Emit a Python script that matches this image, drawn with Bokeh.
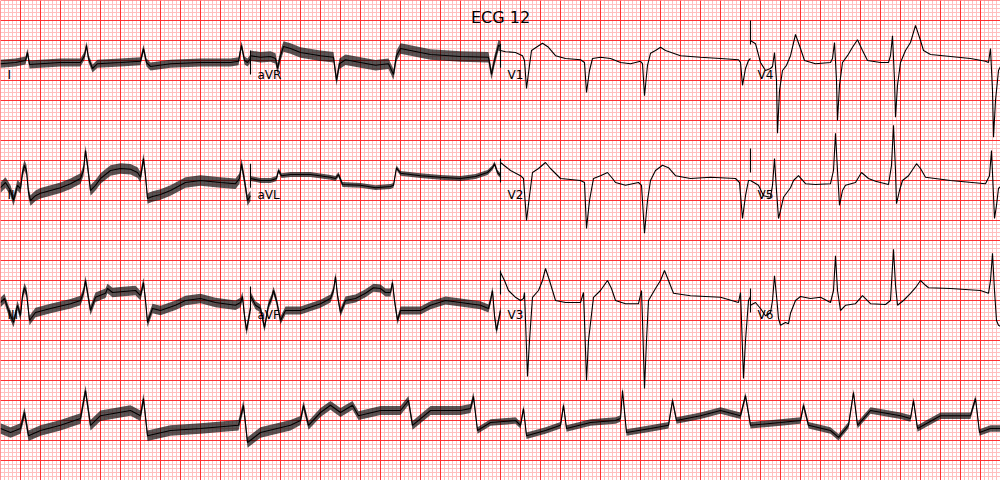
import numpy as np
from bokeh.plotting import figure
from bokeh.models import Range1d, Label
from bokeh.embed import file_html
from bokeh.resources import INLINE

TITLE = "ECG 12"
SECONDS_PER_LEAD = 2.5
ROW_STEP = 3.0  # mV between row baselines

# layout: rows of leads (columns left to right)
LEAD_ROWS = [["I", "aVR", "V1", "V4"],
             ["II", "aVL", "V2", "V5"],
             ["III", "aVF", "V3", "V6"]]

# ---- traces: (time s, amplitude mV) ----
LEAD_I = [(0, -0.08), (0.15, -0.05), (0.25, 0), (0.27, 0.2), (0.29, -0.1), (0.4, -0.08), (0.6, -0.05), (0.8, -0.05),
          (0.84, 0.12), (0.86, 0.38), (0.88, 0.05), (0.92, -0.2), (0.97, -0.08), (1.2, -0.05), (1.4, -0.02), (1.43, 0.3),
          (1.46, -0.05), (1.5, -0.15), (1.7, -0.08), (2.0, -0.05), (2.3, -0.05), (2.38, -0.02), (2.41, 0.38), (2.44, 0.0),
          (2.47, -0.05), (2.5, 0.05)]
LEAD_AVR = [(0, 0.12), (0.1, 0.08), (0.2, 0.1), (0.25, 0.05), (0.27, -0.2), (0.3, 0.12), (0.33, 0.35), (0.4, 0.3), (0.5, 0.2),
            (0.7, 0.12), (0.83, 0.08), (0.86, -0.5), (0.89, -0.08), (0.95, 0.02), (1.1, -0.05), (1.25, -0.12), (1.38, -0.08),
            (1.43, -0.35), (1.46, 0.12), (1.5, 0.3), (1.6, 0.25), (1.8, 0.15), (2.1, 0.1), (2.38, 0.08), (2.41, -0.35),
            (2.44, 0.0), (2.48, 0.38), (2.5, 0.35)]
LEAD_V1 = [(0, 0.25), (0.05, 0.22), (0.15, 0.2), (0.22, 0.12), (0.24, 0), (0.26, -0.7), (0.29, -0.12), (0.31, 0.25), (0.37, 0.35),
           (0.42, 0.43), (0.48, 0.33), (0.55, 0.12), (0.65, 0.05), (0.8, 0.02), (0.84, -0.05), (0.86, -0.8), (0.89, -0.25),
           (0.92, 0.05), (1.0, 0.08), (1.1, 0.05), (1.2, -0.05), (1.3, -0.08), (1.4, -0.02), (1.42, -0.08), (1.44, -0.88),
           (1.47, -0.12), (1.5, 0.18), (1.55, 0.25), (1.6, 0.33), (1.65, 0.25), (1.8, 0.12), (2.0, 0.08), (2.2, 0.05),
           (2.38, 0.02), (2.4, -0.05), (2.42, -0.62), (2.45, -0.2), (2.48, 0), (2.5, 0.05)]
LEAD_V4 = [(0, 0.5), (0.05, 0.42), (0.1, -0.05), (0.15, -0.25), (0.2, -0.2), (0.22, -0.15), (0.24, 0.2), (0.26, -0.5),
           (0.27, -1.82), (0.29, -0.75), (0.32, -0.25), (0.36, -0.12), (0.4, 0.12), (0.45, 0.65), (0.5, 0.3), (0.54, 0),
           (0.65, -0.08), (0.8, -0.05), (0.82, 0.05), (0.84, 0.45), (0.86, -0.5), (0.87, -1.5), (0.89, -0.62), (0.92, -0.05),
           (0.97, 0.12), (1.02, 0.33), (1.07, 0.52), (1.12, 0.25), (1.17, 0), (1.3, -0.05), (1.38, -0.05), (1.4, 0.12),
           (1.42, 0.62), (1.44, -0.5), (1.45, -1.42), (1.47, -0.62), (1.5, -0.05), (1.55, 0.25), (1.6, 0.45), (1.65, 0.88),
           (1.7, 0.5), (1.73, 0.25), (1.8, 0.15), (2.0, 0.1), (2.2, 0.05), (2.35, -0.02), (2.38, -0.05), (2.4, 0.3),
           (2.42, -0.75), (2.43, -1.92), (2.45, -1.0), (2.48, -0.25), (2.5, -0.15)]
LEAD_II = [(0, -0.18), (0.05, -0.05), (0.1, -0.25), (0.13, -0.5), (0.17, -0.12), (0.2, -0.2), (0.22, 0.2), (0.24, 0.38),
           (0.26, 0.25), (0.28, -0.3), (0.3, -0.5), (0.35, -0.38), (0.4, -0.32), (0.5, -0.25), (0.6, -0.18), (0.7, -0.08),
           (0.8, 0.05), (0.83, 0.25), (0.85, 0.75), (0.87, 0.38), (0.9, -0.25), (0.95, -0.12), (1.0, 0.05), (1.1, 0.25),
           (1.2, 0.3), (1.3, 0.28), (1.37, 0.2), (1.4, 0.08), (1.43, 0.55), (1.45, 0.12), (1.47, -0.45), (1.52, -0.4),
           (1.6, -0.35), (1.7, -0.25), (1.85, -0.05), (2.0, 0), (2.2, -0.05), (2.35, -0.08), (2.39, 0.05), (2.41, 0.42),
           (2.44, 0), (2.47, -0.5), (2.5, -0.38)]
LEAD_AVL = [(0, 0.05), (0.1, 0), (0.2, 0), (0.26, 0.05), (0.28, 0.25), (0.31, 0.12), (0.4, 0.15), (0.6, 0.15), (0.8, 0.08),
            (0.85, 0.05), (0.88, 0.15), (0.92, -0.1), (1.1, -0.12), (1.25, -0.18), (1.4, -0.15), (1.43, -0.12), (1.46, 0.32),
            (1.5, 0.18), (1.7, 0.12), (1.9, 0.08), (2.1, 0.05), (2.25, 0.1), (2.37, 0.2), (2.42, 0.32), (2.44, 0.42),
            (2.47, 0.2), (2.5, 0.12)]
LEAD_V2 = [(0, 0.45), (0.05, 0.35), (0.1, 0.25), (0.2, 0.12), (0.23, 0.05), (0.26, -1.0), (0.29, -0.38), (0.32, 0.2), (0.38, 0.3),
           (0.45, 0.45), (0.5, 0.3), (0.6, 0.05), (0.8, 0), (0.84, -0.05), (0.86, -1.2), (0.89, -0.5), (0.93, 0.05), (1.0, 0.12),
           (1.07, 0.2), (1.12, 0.05), (1.15, -0.05), (1.25, -0.12), (1.38, -0.05), (1.41, -0.12), (1.44, -1.32), (1.47, -0.5),
           (1.5, 0), (1.55, 0.25), (1.62, 0.38), (1.68, 0.32), (1.75, 0.12), (1.9, 0.05), (2.1, 0.08), (2.35, 0.05),
           (2.39, -0.05), (2.42, -0.95), (2.45, -0.38), (2.48, 0), (2.5, 0)]
LEAD_V5 = [(0, 0), (0.08, -0.12), (0.13, -0.38), (0.2, -0.42), (0.22, -0.12), (0.24, 0.55), (0.26, -0.25), (0.28, -0.95),
           (0.3, -0.75), (0.33, -0.42), (0.4, -0.18), (0.43, 0), (0.48, 0.12), (0.55, -0.08), (0.65, -0.1), (0.8, -0.08),
           (0.83, 0.25), (0.85, 1.18), (0.87, 0.25), (0.89, -0.62), (0.92, -0.25), (0.95, -0.12), (1.05, -0.05), (1.11, 0.2),
           (1.18, 0.05), (1.25, -0.02), (1.38, -0.1), (1.41, 0.38), (1.43, 1.38), (1.45, 0.25), (1.46, -0.58), (1.49, -0.25),
           (1.52, 0), (1.58, 0.12), (1.66, 0.42), (1.7, 0.3), (1.75, 0.08), (2.0, 0), (2.35, -0.08), (2.39, 0.12),
           (2.41, 0.75), (2.43, -0.38), (2.44, -0.95), (2.46, -0.62), (2.48, -0.2), (2.5, -0.15)]
LEAD_III = [(0, -0.05), (0.04, 0.05), (0.08, -0.25), (0.13, -0.55), (0.17, -0.12), (0.2, -0.38), (0.22, 0.12), (0.24, 0.32),
            (0.26, 0.2), (0.29, -0.5), (0.35, -0.3), (0.5, -0.2), (0.7, -0.08), (0.8, 0), (0.83, 0.2), (0.85, 0.5), (0.87, 0.2),
            (0.9, -0.25), (0.95, 0.08), (1.05, 0.18), (1.07, 0.3), (1.12, 0.2), (1.2, 0.22), (1.35, 0.25), (1.4, 0.12),
            (1.43, 0.45), (1.45, 0), (1.47, -0.55), (1.52, -0.2), (1.6, -0.25), (1.75, -0.12), (1.85, 0), (2.0, 0.05),
            (2.15, -0.05), (2.35, -0.12), (2.4, -0.05), (2.42, 0.1), (2.44, -0.38), (2.46, -0.75), (2.5, -0.2)]
LEAD_AVF = [(0, 0.12), (0.05, -0.12), (0.1, -0.2), (0.14, -0.68), (0.18, -0.12), (0.21, 0.05), (0.23, 0.25), (0.26, 0),
            (0.3, -0.5), (0.35, -0.25), (0.5, -0.25), (0.7, -0.08), (0.8, 0.05), (0.83, 0.25), (0.85, 0.6), (0.87, 0.12),
            (0.9, -0.3), (0.95, 0), (1.05, 0.05), (1.15, 0.18), (1.23, 0.32), (1.3, 0.3), (1.35, 0.2), (1.4, 0.2), (1.42, 0.45),
            (1.44, 0), (1.47, -0.5), (1.5, -0.25), (1.7, -0.25), (1.8, -0.12), (1.95, 0), (2.1, -0.05), (2.3, -0.12),
            (2.38, -0.2), (2.4, 0), (2.42, 0.25), (2.44, -0.38), (2.46, -0.75), (2.5, -0.25)]
LEAD_V3 = [(0, 0.7), (0.04, 0.5), (0.08, 0.25), (0.15, 0.08), (0.2, 0), (0.23, 0.05), (0.24, 0.2), (0.25, -0.5), (0.27, -1.9),
           (0.29, -1.0), (0.32, 0.08), (0.38, 0.25), (0.42, 0.5), (0.45, 0.8), (0.49, 0.5), (0.55, 0), (0.65, -0.05), (0.8, -0.05),
           (0.83, 0.2), (0.84, -0.5), (0.86, -2.0), (0.88, -1.0), (0.93, 0.08), (1.0, 0.25), (1.07, 0.5), (1.11, 0.3), (1.15, 0),
           (1.25, -0.08), (1.38, -0.08), (1.41, 0.25), (1.42, -0.5), (1.44, -2.2), (1.46, -1.0), (1.48, 0), (1.55, 0.3),
           (1.6, 0.5), (1.64, 0.75), (1.68, 0.5), (1.73, 0.18), (1.9, 0.12), (2.2, 0.08), (2.38, -0.05), (2.4, 0.2),
           (2.41, -0.5), (2.43, -1.95), (2.45, -1.0), (2.48, 0), (2.5, 0.1)]
LEAD_V6 = [(0, -0.12), (0.05, -0.05), (0.1, -0.2), (0.15, -0.38), (0.2, -0.3), (0.22, 0), (0.24, 0.62), (0.26, 0.12),
           (0.28, -0.45), (0.3, -0.62), (0.35, -0.55), (0.38, -0.58), (0.4, -0.32), (0.45, 0), (0.5, 0.1), (0.6, 0.05),
           (0.7, 0.08), (0.8, -0.05), (0.83, 0.25), (0.85, 1.12), (0.87, 0.25), (0.9, -0.25), (0.95, -0.12), (1.05, -0.08),
           (1.12, 0.12), (1.2, -0.08), (1.35, -0.1), (1.4, 0), (1.43, 1.28), (1.45, 0.38), (1.47, -0.12), (1.53, 0),
           (1.6, 0.18), (1.65, 0.32), (1.7, 0.5), (1.75, 0.38), (1.78, 0.32), (2.0, 0.3), (2.3, 0.25), (2.38, 0.18),
           (2.4, 0.5), (2.42, 1.18), (2.44, 0.25), (2.46, -0.5), (2.48, -0.62), (2.5, -0.65)]
# rhythm strip (lead II, 10 s)
RHYTHM_II = [(0, -0.2), (0.1, -0.3), (0.2, -0.2), (0.24, 0.2), (0.28, -0.38), (0.4, -0.25), (0.6, -0.12), (0.8, 0.05),
             (0.85, 0.75), (0.9, -0.12), (1.0, 0.12), (1.3, 0.25), (1.4, 0.12), (1.43, 0.55), (1.47, -0.38), (1.7, -0.25),
             (2.0, -0.2), (2.38, -0.12), (2.43, 0.38), (2.47, -0.55), (2.6, -0.3), (2.9, -0.12), (3.0, 0), (3.03, 0.38),
             (3.08, -0.12), (3.2, 0.2), (3.3, 0.38), (3.4, 0.2), (3.52, 0.38), (3.58, 0.12), (3.8, 0.25), (4.0, 0.25),
             (4.08, 0.5), (4.12, -0.12), (4.3, 0.25), (4.6, 0.25), (4.7, 0.3), (4.73, 0.6), (4.77, -0.25), (4.9, -0.05),
             (5.15, 0), (5.2, -0.12), (5.23, 0.3), (5.26, -0.38), (5.45, -0.25), (5.6, -0.12), (5.63, 0.38), (5.66, -0.2),
             (5.9, -0.05), (6.15, 0), (6.2, 0.05), (6.22, 0.75), (6.26, -0.3), (6.5, -0.2), (6.68, -0.12), (6.72, 0.5),
             (6.76, 0), (7.0, 0.12), (7.2, 0.25), (7.4, 0.12), (7.45, 0.62), (7.5, -0.12), (7.8, -0.05), (8.0, 0),
             (8.03, 0.38), (8.08, -0.12), (8.3, -0.25), (8.38, -0.42), (8.48, -0.12), (8.53, 0.7), (8.57, -0.12), (8.7, 0.25),
             (9.0, 0.12), (9.1, 0.05), (9.13, 0.5), (9.17, -0.2), (9.4, 0.12), (9.7, 0.12), (9.75, 0.55), (9.79, -0.3),
             (9.9, -0.2), (10.0, -0.2)]

TRACES = {"I": LEAD_I, "aVR": LEAD_AVR, "V1": LEAD_V1, "V4": LEAD_V4,
          "II": LEAD_II, "aVL": LEAD_AVL, "V2": LEAD_V2, "V5": LEAD_V5,
          "III": LEAD_III, "aVF": LEAD_AVF, "V3": LEAD_V3, "V6": LEAD_V6}
# half-height of the baseline noise fuzz (mV) per lead
NOISE = {"I": 0.1, "aVR": 0.13, "V1": 0.03, "V4": 0.02, "II": 0.13, "aVL": 0.06, "V2": 0.02, "V5": 0.02,
         "III": 0.12, "aVF": 0.1, "V3": 0.02, "V6": 0.02}
# rhythm strip fuzz: (from time s, half-height mV)
RHYTHM_NOISE = [(0.0, 0.13), (3.0, 0.11), (4.75, 0.08)]

Y_TOP = 1.5
Y_BOTTOM = -10.5
X_END = 10.0

p = figure(width=1000, height=480, x_range=Range1d(0, X_END), y_range=Range1d(Y_BOTTOM, Y_TOP),
           output_backend="svg", toolbar_location=None, min_border=0,
           x_axis_location=None, y_axis_location=None)
p.grid.visible = False
p.outline_line_color = None
p.background_fill_color = "white"
p.border_fill_color = "white"

# ECG paper grid: major 0.2 s / 0.5 mV, minor 0.04 s / 0.1 mV
nx = int(round(X_END / 0.04))
ny = int(round((Y_TOP - Y_BOTTOM) / 0.1))
xs_all = np.arange(nx + 1) * 0.04
ys_all = Y_TOP - np.arange(ny + 1) * 0.1
minor_x = [x for i, x in enumerate(xs_all) if i % 5 != 0]
major_x = [x for i, x in enumerate(xs_all) if i % 5 == 0]
minor_y = [y for i, y in enumerate(ys_all) if i % 5 != 0]
major_y = [y for i, y in enumerate(ys_all) if i % 5 == 0]
grid_minor = "#ffc0c0"
grid_major = "#ff3030"
p.segment(x0=minor_x, y0=Y_BOTTOM, x1=minor_x, y1=Y_TOP, line_color=grid_minor, line_width=1)
p.segment(x0=0, y0=minor_y, x1=X_END, y1=minor_y, line_color=grid_minor, line_width=1)
p.segment(x0=major_x, y0=Y_BOTTOM, x1=major_x, y1=Y_TOP, line_color=grid_major, line_width=1)
p.segment(x0=0, y0=major_y, x1=X_END, y1=major_y, line_color=grid_major, line_width=1)


def draw_trace(points, x_off, y_off, noise):
    t = np.array([a for a, _ in points]) + x_off
    v = np.array([b for _, b in points]) + y_off
    n = np.broadcast_to(np.asarray(noise, dtype=float), t.shape)
    if n.max() > 0.03:
        p.varea(x=t, y1=v - n, y2=v + n, fill_color="black", fill_alpha=0.66)
    p.line(t, v, line_color="black", line_width=1.1)


prev_lead = None
order = [(c, r) for c in range(4) for r in range(3)]
for c, r in order:
    lead = LEAD_ROWS[r][c]
    x_off = c * SECONDS_PER_LEAD
    y_off = -ROW_STEP * r
    if c > 0 and prev_lead is not None:
        s0 = TRACES[prev_lead][0][1] + y_off
        p.line([x_off, x_off], [s0 - 0.3, s0 + 0.3], line_color="black", line_width=1.1)
    draw_trace(TRACES[lead], x_off, y_off, NOISE[lead])
    p.add_layout(Label(x=x_off + 0.07, y=y_off - 0.36, text=lead, text_font="DejaVu Sans",
                       text_font_size="12px", text_color="black", text_baseline="alphabetic"))
    prev_lead = lead

rhythm_noise = []
for t, _ in RHYTHM_II:
    level = RHYTHM_NOISE[0][1]
    for start, amp in RHYTHM_NOISE:
        if t >= start:
            level = amp
    rhythm_noise.append(level)
draw_trace(RHYTHM_II, 0, -ROW_STEP * 3, rhythm_noise)

p.add_layout(Label(x=X_END / 2, y=Y_TOP - 17 / 40.0, text=TITLE, text_font="DejaVu Sans",
                   text_font_size="16px", text_color="black", text_align="center", text_baseline="alphabetic"))

open("out.html", "w").write(file_html(p, INLINE))
